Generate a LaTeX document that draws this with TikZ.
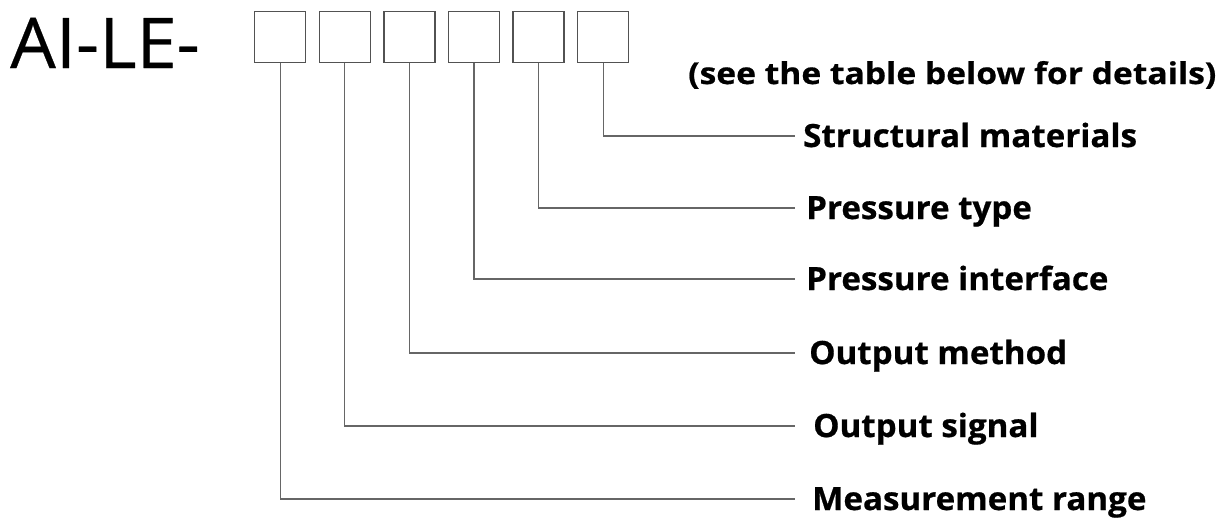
\documentclass[tikz,border=0pt]{standalone}
\usepackage{graphicx}
\usepackage{fontspec}
\setmainfont{Open Sans}
\begin{document}
\begin{tikzpicture}[x=1pt,y=-1pt,
  codebox/.style={draw=black!68,line width=1.4pt,minimum width=51pt,minimum height=51pt,inner sep=0pt,anchor=north west},
  lbl/.style={anchor=base west,inner sep=0pt,font=\fontsize{32}{36}\selectfont\bfseries\addfontfeatures{FakeBold=0.6}},
  conn/.style={draw=black!60,line width=1.3pt}]
\useasboundingbox (0,0) rectangle (1229,520);
\fill[white] (0,0) rectangle (1229,520);
\node[anchor=base west,inner sep=0pt,font=\fontsize{70}{80}\selectfont\addfontfeatures{FakeBold=0.4}] (title) at (10,68) {\scalebox{1.03}[1]{AI-LE-}};
\foreach \i in {1,...,6}{
  \node[codebox] (b\i) at ({254+64.6*(\i-1)},11) {};
}
\node[anchor=base west,inner sep=0pt,font=\fontsize{30}{34}\selectfont\bfseries\addfontfeatures{FakeBold=0.6}] (note) at (688,84) {\scalebox{1.12}[1]{(see the table below for details)}};
\node[lbl] (l6) at (803,147) {\scalebox{1.035}[1]{Structural materials}};
\node[lbl] (l5) at (806,219) {\scalebox{1.035}[1]{Pressure type}};
\node[lbl] (l4) at (806,290) {\scalebox{1.035}[1]{Pressure interface}};
\node[lbl] (l3) at (809,364) {\scalebox{1.035}[1]{Output method}};
\node[lbl] (l2) at (813,437) {\scalebox{1.035}[1]{Output signal}};
\node[lbl] (l1) at (812,510) {\scalebox{1.035}[1]{Measurement range}};
\coordinate (e6) at (795,136);
\coordinate (e5) at (795,208);
\coordinate (e4) at (795,279);
\coordinate (e3) at (795,353);
\coordinate (e2) at (795,426);
\coordinate (e1) at (795,499);
\foreach \i in {1,...,6}{
  \draw[conn] (b\i.south) |- (e\i);
}
\end{tikzpicture}
\end{document}
